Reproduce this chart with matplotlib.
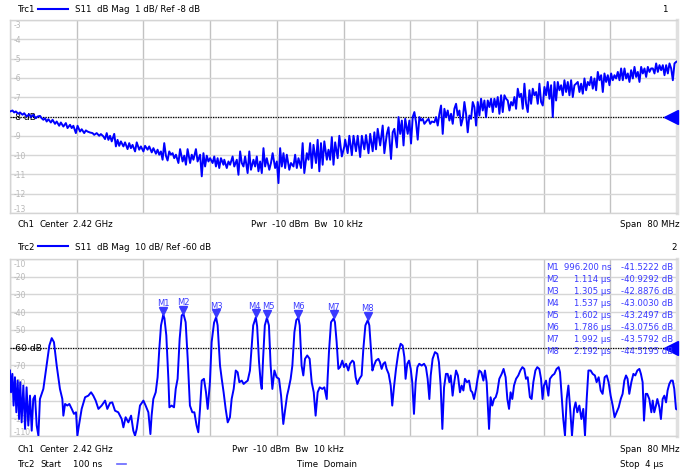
import matplotlib
matplotlib.use("Agg")
import matplotlib.pyplot as plt
from matplotlib.transforms import offset_copy

# Trc1: S11 magnitude vs frequency (MHz)
trc1_freq = [
    2380.0, 2380.3, 2380.5, 2380.7, 2381.0, 2381.2, 2381.5, 2381.7, 2382.0, 2382.3,
    2382.5, 2382.8, 2383.1, 2383.3, 2383.6, 2383.8, 2384.0, 2384.2, 2384.4, 2384.6,
    2384.9, 2385.1, 2385.4, 2385.6, 2385.9, 2386.1, 2386.4, 2386.7, 2386.9, 2387.2,
    2387.4, 2387.6, 2387.9, 2388.1, 2388.4, 2388.6, 2388.9, 2389.1, 2389.3, 2389.6,
    2389.9, 2390.1, 2390.4, 2390.7, 2390.9, 2391.2, 2391.4, 2391.6, 2391.8, 2392.0,
    2392.2, 2392.5, 2392.7, 2392.9, 2393.1, 2393.3, 2393.6, 2393.8, 2394.1, 2394.3,
    2394.5, 2394.7, 2395.0, 2395.2, 2395.5, 2395.7, 2396.0, 2396.2, 2396.5, 2396.7,
    2397.0, 2397.2, 2397.5, 2397.7, 2397.9, 2398.1, 2398.3, 2398.5, 2398.7, 2398.9,
    2399.1, 2399.3, 2399.5, 2399.7, 2399.9, 2400.2, 2400.4, 2400.7, 2400.9, 2401.1,
    2401.3, 2401.6, 2401.8, 2402.0, 2402.3, 2402.5, 2402.8, 2403.0, 2403.2, 2403.4,
    2403.6, 2403.8, 2404.0, 2404.3, 2404.5, 2404.7, 2404.9, 2405.1, 2405.3, 2405.6,
    2405.7, 2406.0, 2406.2, 2406.4, 2406.7, 2406.9, 2407.2, 2407.4, 2407.6, 2407.8,
    2408.0, 2408.2, 2408.5, 2408.7, 2408.9, 2409.2, 2409.4, 2409.6, 2409.8, 2410.0,
    2410.2, 2410.4, 2410.6, 2410.8, 2411.1, 2411.3, 2411.5, 2411.8, 2412.0, 2412.2,
    2412.4, 2412.6, 2412.8, 2413.0, 2413.2, 2413.5, 2413.7, 2414.0, 2414.2, 2414.4,
    2414.6, 2414.9, 2415.1, 2415.3, 2415.6, 2415.8, 2416.0, 2416.2, 2416.4, 2416.7,
    2416.9, 2417.1, 2417.3, 2417.5, 2417.7, 2418.0, 2418.2, 2418.4, 2418.6, 2418.8,
    2419.0, 2419.3, 2419.5, 2419.8, 2420.1, 2420.2, 2420.5, 2420.7, 2421.0, 2421.2,
    2421.5, 2421.7, 2422.0, 2422.2, 2422.5, 2422.7, 2423.0, 2423.2, 2423.5, 2423.7,
    2423.9, 2424.1, 2424.4, 2424.7, 2424.9, 2425.2, 2425.4, 2425.7, 2425.9, 2426.1,
    2426.4, 2426.6, 2426.8, 2427.0, 2427.2, 2427.4, 2427.7, 2427.9, 2428.1, 2428.3,
    2428.5, 2428.7, 2428.9, 2429.1, 2429.3, 2429.5, 2429.7, 2430.0, 2430.2, 2430.4,
    2430.6, 2430.9, 2431.1, 2431.3, 2431.5, 2431.7, 2431.9, 2432.1, 2432.3, 2432.5,
    2432.7, 2432.9, 2433.1, 2433.3, 2433.5, 2433.7, 2433.9, 2434.1, 2434.3, 2434.5,
    2434.7, 2434.9, 2435.1, 2435.3, 2435.5, 2435.7, 2435.9, 2436.1, 2436.3, 2436.5,
    2436.7, 2436.9, 2437.1, 2437.3, 2437.5, 2437.7, 2437.9, 2438.1, 2438.3, 2438.5,
    2438.7, 2438.9, 2439.1, 2439.3, 2439.5, 2439.7, 2439.9, 2440.1, 2440.3, 2440.5,
    2440.7, 2440.9, 2441.1, 2441.3, 2441.5, 2441.7, 2441.9, 2442.1, 2442.3, 2442.5,
    2442.7, 2442.9, 2443.1, 2443.3, 2443.5, 2443.7, 2443.9, 2444.1, 2444.3, 2444.5,
    2444.7, 2444.9, 2445.1, 2445.3, 2445.5, 2445.7, 2445.9, 2446.1, 2446.3, 2446.5,
    2446.7, 2446.9, 2447.1, 2447.3, 2447.5, 2447.7, 2447.9, 2448.1, 2448.3, 2448.5,
    2448.7, 2448.9, 2449.1, 2449.3, 2449.5, 2449.7, 2449.9, 2450.1, 2450.3, 2450.5,
    2450.7, 2450.9, 2451.1, 2451.3, 2451.5, 2451.7, 2451.9, 2452.1, 2452.3, 2452.5,
    2452.7, 2452.9, 2453.1, 2453.3, 2453.5, 2453.7, 2453.9, 2454.1, 2454.3, 2454.5,
    2454.7, 2454.9, 2455.1, 2455.3, 2455.5, 2455.7, 2455.9, 2456.1, 2456.3, 2456.5,
    2456.7, 2456.9, 2457.1, 2457.3, 2457.5, 2457.7, 2457.9, 2458.1, 2458.3, 2458.5,
    2458.7, 2458.9, 2459.1, 2459.3, 2459.5, 2459.7, 2459.9, 2460.0,
]
trc1_db = [
    -7.74, -7.69, -7.79, -7.74, -7.86, -7.79, -7.91, -7.83, -8.00, -7.88,
    -8.03, -7.91, -8.09, -8.00, -7.97, -8.09, -8.17, -8.09, -8.26, -8.14,
    -8.31, -8.17, -8.38, -8.26, -8.48, -8.31, -8.52, -8.34, -8.60, -8.43,
    -8.60, -8.48, -8.86, -8.48, -8.78, -8.66, -8.86, -8.72, -8.78, -8.83,
    -8.86, -8.95, -8.86, -9.00, -8.91, -9.03, -9.17, -8.86, -9.21, -9.00,
    -9.29, -8.90, -9.55, -9.21, -9.52, -9.29, -9.55, -9.34, -9.69, -9.38,
    -9.64, -9.47, -9.81, -9.34, -9.72, -9.55, -9.81, -9.52, -9.72, -9.55,
    -9.86, -9.64, -9.93, -9.72, -9.98, -9.81, -10.24, -9.38, -10.03, -10.28,
    -9.81, -9.98, -9.90, -10.16, -9.98, -10.41, -9.69, -10.33, -10.03, -10.50,
    -9.69, -10.41, -9.98, -10.24, -9.69, -10.33, -9.98, -11.10, -9.90, -10.59,
    -10.03, -10.33, -10.16, -10.41, -10.07, -10.59, -10.16, -10.67, -10.16, -10.50,
    -10.24, -10.67, -10.33, -10.50, -10.07, -10.59, -10.24, -11.02, -9.81, -10.41,
    -10.59, -10.07, -10.93, -9.81, -10.76, -10.24, -10.59, -10.07, -10.84, -10.33,
    -10.93, -9.64, -10.59, -10.16, -10.76, -10.41, -9.90, -10.67, -10.33, -11.45,
    -9.64, -10.59, -9.90, -10.67, -9.98, -10.76, -10.41, -10.59, -9.98, -10.67,
    -10.16, -10.67, -9.38, -10.93, -9.90, -10.24, -9.38, -10.67, -9.47, -10.41,
    -9.21, -10.84, -9.38, -10.50, -9.29, -10.24, -9.72, -10.24, -9.07, -10.50,
    -9.34, -10.16, -9.00, -10.07, -9.55, -9.20, -9.90, -9.00, -10.00, -9.00,
    -9.80, -9.00, -10.10, -9.00, -9.70, -8.96, -9.90, -8.90, -9.80, -8.82,
    -9.70, -8.64, -9.50, -8.47, -9.90, -8.90, -8.56, -10.20, -8.82, -8.64,
    -9.60, -8.03, -8.90, -8.21, -9.50, -8.12, -8.90, -8.21, -9.40, -8.03,
    -7.77, -8.30, -9.20, -8.03, -8.21, -8.12, -8.38, -8.21, -8.12, -8.38,
    -8.26, -8.30, -8.03, -8.47, -7.86, -7.43, -8.90, -7.60, -8.03, -7.69,
    -8.21, -7.86, -8.38, -7.60, -7.34, -7.95, -7.69, -8.47, -8.12, -7.25,
    -7.86, -8.82, -7.95, -8.12, -7.25, -7.51, -8.47, -7.25, -7.95, -7.08,
    -7.69, -7.17, -8.03, -7.17, -7.51, -7.08, -7.77, -7.08, -7.51, -6.99,
    -7.86, -6.90, -7.77, -6.90, -7.08, -7.17, -7.69, -7.25, -7.43, -6.99,
    -7.60, -6.56, -6.99, -6.82, -7.60, -6.30, -7.34, -7.77, -6.64, -7.34,
    -6.56, -6.90, -6.73, -7.34, -6.30, -7.25, -7.43, -6.47, -6.90, -6.21,
    -7.08, -6.38, -8.03, -6.21, -7.17, -6.21, -6.64, -6.38, -6.90, -6.12,
    -6.73, -6.21, -6.90, -6.12, -6.99, -6.38, -6.30, -6.21, -6.73, -6.30,
    -6.82, -6.03, -6.64, -6.21, -6.38, -5.95, -6.56, -6.03, -6.64, -5.69,
    -6.12, -5.86, -6.73, -5.77, -6.21, -5.86, -6.38, -5.77, -6.12, -5.86,
    -6.03, -5.69, -6.12, -5.51, -6.12, -5.51, -6.03, -5.77, -6.21, -5.60,
    -6.03, -5.43, -5.95, -5.69, -6.21, -5.43, -5.77, -5.51, -5.95, -5.43,
    -5.69, -5.51, -5.51, -5.77, -5.25, -5.69, -5.34, -5.60, -5.34, -5.86,
    -5.34, -5.77, -5.25, -5.51, -6.12, -5.25, -5.17, -5.15,
]

# Trc2: time domain transform, time in us
trc2_time = [
    0.100, 0.106, 0.114, 0.121, 0.129, 0.137, 0.145, 0.153, 0.160, 0.168,
    0.178, 0.188, 0.197, 0.207, 0.217, 0.227, 0.236, 0.246, 0.256, 0.266,
    0.275, 0.295, 0.314, 0.330, 0.344, 0.357, 0.373, 0.392, 0.406, 0.412,
    0.422, 0.435, 0.447, 0.461, 0.474, 0.486, 0.494, 0.503, 0.519, 0.539,
    0.558, 0.574, 0.587, 0.601, 0.617, 0.636, 0.656, 0.669, 0.685, 0.698,
    0.714, 0.733, 0.753, 0.763, 0.776, 0.792, 0.808, 0.821, 0.831, 0.841,
    0.860, 0.880, 0.893, 0.909, 0.921, 0.928, 0.938, 0.952, 0.963, 0.973,
    0.983, 0.9962, 1.003, 1.014, 1.026, 1.032, 1.045, 1.059, 1.069, 1.080,
    1.092, 1.104, 1.114, 1.127, 1.139, 1.152, 1.166, 1.178, 1.191, 1.201,
    1.211, 1.221, 1.234, 1.246, 1.256, 1.269, 1.279, 1.293, 1.305, 1.314,
    1.328, 1.338, 1.349, 1.361, 1.373, 1.386, 1.396, 1.408, 1.420, 1.431,
    1.441, 1.455, 1.466, 1.478, 1.490, 1.503, 1.522, 1.537, 1.545, 1.556,
    1.566, 1.572, 1.580, 1.590, 1.602, 1.614, 1.624, 1.634, 1.646, 1.659,
    1.673, 1.685, 1.698, 1.708, 1.720, 1.729, 1.741, 1.751, 1.763, 1.774,
    1.786, 1.794, 1.805, 1.815, 1.825, 1.838, 1.852, 1.864, 1.876, 1.887,
    1.899, 1.911, 1.926, 1.938, 1.952, 1.957, 1.965, 1.977, 1.992, 2.000,
    2.010, 2.020, 2.030, 2.043, 2.053, 2.065, 2.078, 2.088, 2.102, 2.111,
    2.121, 2.131, 2.143, 2.156, 2.166, 2.178, 2.192, 2.201, 2.209, 2.219,
    2.228, 2.240, 2.254, 2.263, 2.273, 2.283, 2.293, 2.302, 2.314, 2.326,
    2.335, 2.345, 2.357, 2.371, 2.384, 2.396, 2.406, 2.413, 2.423, 2.433,
    2.443, 2.452, 2.462, 2.472, 2.482, 2.493, 2.507, 2.521, 2.532, 2.542,
    2.552, 2.560, 2.571, 2.585, 2.599, 2.608, 2.618, 2.628, 2.638, 2.649,
    2.659, 2.669, 2.677, 2.688, 2.696, 2.708, 2.719, 2.731, 2.741, 2.751,
    2.760, 2.772, 2.784, 2.794, 2.803, 2.813, 2.825, 2.834, 2.844, 2.856,
    2.868, 2.877, 2.887, 2.901, 2.910, 2.920, 2.930, 2.940, 2.949, 2.961,
    2.975, 2.986, 2.998, 3.008, 3.018, 3.027, 3.037, 3.047, 3.059, 3.072,
    3.084, 3.096, 3.107, 3.117, 3.127, 3.140, 3.150, 3.160, 3.172, 3.183,
    3.195, 3.205, 3.214, 3.222, 3.234, 3.248, 3.257, 3.271, 3.283, 3.296,
    3.308, 3.316, 3.324, 3.335, 3.345, 3.355, 3.365, 3.374, 3.386, 3.398,
    3.407, 3.417, 3.429, 3.441, 3.452, 3.462, 3.472, 3.482, 3.495, 3.507,
    3.520, 3.530, 3.542, 3.554, 3.565, 3.577, 3.589, 3.600, 3.612, 3.624,
    3.635, 3.647, 3.659, 3.671, 3.682, 3.692, 3.702, 3.711, 3.721, 3.733,
    3.745, 3.756, 3.768, 3.780, 3.789, 3.799, 3.807, 3.817, 3.826, 3.838,
    3.850, 3.858, 3.867, 3.877, 3.885, 3.897, 3.906, 3.916, 3.926, 3.936,
    3.945, 3.955, 3.965, 3.975, 3.984, 3.994, 4.000,
]
trc2_db = [
    -73.0, -85.3, -74.9, -92.8, -76.8, -96.6, -78.7, -100.4, -79.6, -102.3,
    -81.5, -106.0, -82.5, -104.1, -87.2, -107.0, -89.1, -87.2, -104.1, -109.8,
    -89.1, -83.4, -70.2, -58.9, -54.7, -57.0, -70.2, -83.4, -89.1, -98.5,
    -91.9, -92.8, -91.9, -94.7, -97.5, -96.6, -109.8, -104.1, -94.7, -88.1,
    -87.2, -85.3, -87.2, -90.0, -94.7, -92.8, -90.0, -94.7, -91.3, -91.0,
    -95.7, -96.6, -100.4, -105.1, -99.4, -102.3, -98.5, -107.0, -109.8, -106.0,
    -92.8, -90.0, -92.8, -96.6, -108.9, -98.5, -89.1, -85.3, -76.8, -60.8,
    -47.5, -41.5222, -43.5, -53.2, -77.7, -93.8, -92.8, -93.8, -83.4, -77.7,
    -55.1, -41.9, -40.9292, -45.7, -66.4, -92.8, -96.6, -96.6, -104.1, -107.9,
    -94.7, -78.7, -77.7, -85.3, -94.7, -79.6, -57.0, -46.0, -42.8876, -47.5,
    -70.2, -77.7, -85.3, -94.7, -102.3, -99.4, -89.1, -83.4, -73.0, -74.0,
    -79.6, -78.7, -80.6, -79.6, -78.7, -73.0, -47.5, -43.0030, -48.0, -68.0,
    -80.0, -83.4, -66.0, -47.5, -43.2497, -47.5, -70.2, -83.4, -73.0, -76.8,
    -77.7, -87.2, -103.2, -95.7, -87.2, -83.4, -77.7, -70.2, -51.3, -44.5,
    -43.0756, -47.5, -70.2, -75.8, -66.4, -64.5, -66.4, -79.6, -85.3, -98.5,
    -85.3, -82.5, -83.4, -82.5, -89.1, -77.7, -62.6, -45.7, -43.5792, -45.7,
    -57.0, -72.1, -71.1, -67.4, -71.1, -69.2, -73.0, -69.2, -67.4, -68.3,
    -76.8, -80.6, -77.7, -75.8, -60.8, -47.5, -44.5195, -47.5, -58.9, -73.0,
    -70.2, -67.4, -66.4, -68.3, -72.1, -69.2, -68.3, -72.1, -74.9, -81.5,
    -92.8, -82.5, -72.1, -62.6, -57.9, -58.9, -65.5, -77.7, -69.2, -67.4,
    -72.1, -79.6, -97.5, -79.6, -71.1, -69.2, -70.2, -69.2, -71.1, -77.7,
    -89.1, -75.8, -66.4, -62.6, -63.6, -68.3, -81.5, -106.0, -82.5, -74.9,
    -74.9, -79.6, -75.8, -87.2, -80.6, -73.0, -75.8, -85.3, -81.5, -84.3,
    -77.7, -79.6, -78.7, -84.3, -85.3, -89.1, -83.4, -77.7, -73.0, -74.0,
    -78.7, -73.0, -79.6, -106.0, -88.1, -92.8, -89.1, -88.1, -85.3, -77.7,
    -74.9, -72.1, -76.8, -89.1, -94.7, -85.3, -89.1, -81.5, -77.7, -75.8,
    -73.0, -71.1, -72.1, -77.7, -76.8, -88.1, -89.1, -79.6, -73.0, -71.1,
    -72.1, -77.7, -89.1, -81.5, -78.7, -87.2, -77.7, -75.8, -74.9, -72.1,
    -71.1, -74.0, -85.3, -100.4, -109.8, -89.1, -81.5, -92.8, -109.8, -94.7,
    -91.0, -96.6, -92.8, -100.4, -94.7, -109.8, -89.1, -73.0, -73.0, -74.9,
    -75.8, -79.6, -76.8, -84.3, -86.2, -76.8, -75.8, -79.6, -87.2, -92.8,
    -99.4, -96.6, -93.8, -89.1, -86.2, -78.7, -75.8, -77.7, -86.2, -79.6,
    -74.9, -75.8, -73.0, -72.1, -74.9, -79.6, -101.3, -86.2, -86.2, -89.1,
    -96.6, -90.0, -96.6, -92.8, -89.1, -93.8, -100.4, -89.1, -87.2, -91.0,
    -84.3, -80.6, -78.7, -78.7, -83.4, -94.7, -95.0,
]

marker_names = ["M1", "M2", "M3", "M4", "M5", "M6", "M7", "M8"]
marker_time = [0.9962, 1.114, 1.305, 1.537, 1.602, 1.786, 1.992, 2.192]
marker_db = [-41.5222, -40.9292, -42.8876, -43.0030, -43.2497, -43.0756, -43.5792, -44.5195]

trc1_ref = -8
trc2_ref = -60
trc1_yticks = list(range(-3, -14, -1))
trc2_yticks = list(range(-10, -111, -10))

W, H = 688, 477
BLUE = "#0000ff"
MBLUE = "#3a3aff"
TXT = 6.2
plt.rcParams["font.family"] = "DejaVu Sans"

# nudge the close-together M4/M5 labels apart (points)
label_nudge = {"M4": -1.3, "M5": 1.3}


def fx(x):
    return x / W


def fy(y):
    return 1 - y / H


fig = plt.figure(figsize=(W / 100, H / 100), dpi=100)
fig.patch.set_facecolor("white")


def setup_axes(ax, xlim, ylim, yticks, ref, ndiv=10):
    ax.set_xlim(*xlim)
    ax.set_ylim(*ylim)
    step = (xlim[1] - xlim[0]) / ndiv
    ax.set_xticks([xlim[0] + i * step for i in range(ndiv + 1)])
    ax.set_yticks(yticks)
    ax.tick_params(length=0, labelbottom=False, labelleft=False)
    ax.xaxis.grid(True, color="#c2c2c2", lw=1)
    ax.yaxis.grid(True, color="#d6d6d6", lw=1)
    ax.set_axisbelow(True)
    for s in ax.spines.values():
        s.set_color("#d4d4d4")
        s.set_linewidth(1)
    ax.spines["right"].set_linewidth(2.5)
    ax.spines["right"].set_color("#e0e0e0")
    tr = ax.get_yaxis_transform()
    for i, v in enumerate(yticks):
        if v == ref:
            continue
        va = "center"
        if i == 0:
            va = "top"
        elif i == len(yticks) - 1:
            va = "bottom"
        ax.text(0.006, v, str(v), transform=tr, fontsize=5.5, color="#b8b8b8",
                va=va, ha="left", zorder=1)
    ax.axhline(ref, color="black", lw=0.9, ls=(0, (1, 1)), zorder=3)
    ax.text(0.003, ref, "%d dB" % ref, transform=tr, fontsize=6.6,
            color="black", va="center", ha="left", zorder=2)
    ax.plot([0.991], [ref], marker="<", ms=10, color=BLUE, transform=tr,
            clip_on=False, zorder=6)


# top trace
ax1 = fig.add_axes([fx(10), fy(214), fx(667), 193 / H])
setup_axes(ax1, (2380, 2460), (-13, -3), trc1_yticks, trc1_ref)
ax1.plot(trc1_freq, trc1_db, color=BLUE, lw=1.4, zorder=5)

# bottom trace
ax2 = fig.add_axes([fx(10), fy(437), fx(667), 177 / H])
setup_axes(ax2, (0.1, 4.0), (-110, -10), trc2_yticks, trc2_ref)
ax2.plot(trc2_time, trc2_db, color=BLUE, lw=1.4, zorder=5)

mk_tr = offset_copy(ax2.transData, fig=fig, x=0, y=4, units="dots")
ax2.plot(marker_time, marker_db, ls="none", marker="v", ms=6, color=MBLUE,
         transform=mk_tr, zorder=7)
for name, t, v in zip(marker_names, marker_time, marker_db):
    ax2.annotate(name, (t, v), xytext=(label_nudge.get(name, 0), 5.5),
                 textcoords="offset points", ha="center", va="bottom",
                 fontsize=6.0, color=MBLUE, zorder=7)

# marker table
for i, (name, t, v) in enumerate(zip(marker_names, marker_time, marker_db)):
    y = 268 + i * 11.9
    if t < 1:
        ts = "%.3f ns" % (t * 1000)
    else:
        ts = "%.3f µs" % t
    fig.text(fx(546), fy(y), name, fontsize=6.1, color=MBLUE, va="center", ha="left")
    fig.text(fx(611), fy(y), ts, fontsize=6.1, color=MBLUE, va="center", ha="right")
    fig.text(fx(673), fy(y), "%.4f dB" % v, fontsize=6.1, color=MBLUE,
             va="center", ha="right")


# header / footer texts
def trace_header(y, name, info, num, numx):
    fig.text(fx(18), fy(y), name, fontsize=TXT, va="center")
    fig.add_artist(plt.Line2D([fx(38), fx(68)], [fy(y), fy(y)], color=BLUE, lw=1.5))
    fig.text(fx(75), fy(y), info, fontsize=TXT, va="center")
    fig.text(fx(numx), fy(y), num, fontsize=TXT, va="center")


trace_header(10, "Trc1", "S11  dB Mag  1 dB/ Ref -8 dB", "1", 662)
trace_header(247, "Trc2", "S11  dB Mag  10 dB/ Ref -60 dB", "2", 671)

for y, pwr_x in [(225, 251), (450, 232)]:
    fig.text(fx(18), fy(y), "Ch1", fontsize=TXT, va="center")
    fig.text(fx(40), fy(y), "Center", fontsize=TXT, va="center")
    fig.text(fx(73), fy(y), "2.42 GHz", fontsize=TXT, va="center")
    fig.text(fx(pwr_x), fy(y), "Pwr  -10 dBm  Bw  10 kHz", fontsize=TXT, va="center")
    fig.text(fx(620), fy(y), "Span  80 MHz", fontsize=TXT, va="center")

fig.text(fx(18), fy(465), "Trc2", fontsize=TXT, va="center")
fig.text(fx(40), fy(465), "Start", fontsize=TXT, va="center")
fig.text(fx(73), fy(465), "100 ns", fontsize=TXT, va="center")
fig.add_artist(plt.Line2D([fx(117), fx(126)], [fy(465), fy(465)], color="#6666ff", lw=1.2))
fig.text(fx(297), fy(465), "Time  Domain", fontsize=TXT, va="center")
fig.text(fx(620), fy(465), "Stop  4 µs", fontsize=TXT, va="center")

fig.savefig("out.png", dpi=100)
